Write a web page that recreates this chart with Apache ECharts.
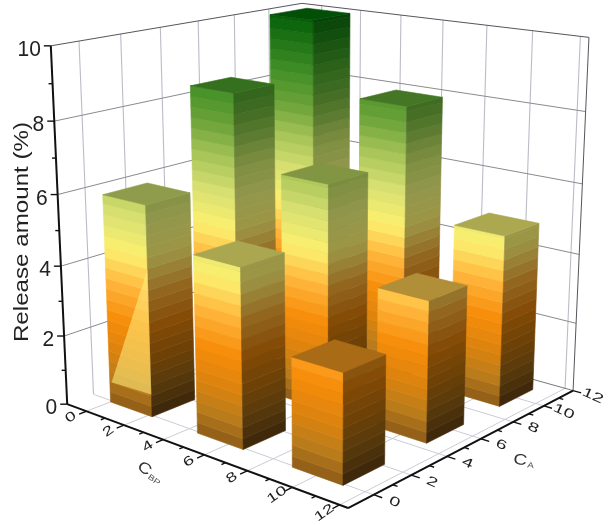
<!DOCTYPE html>
<html><head><meta charset="utf-8">
<style>html,body{margin:0;padding:0;background:#fff}#c{width:608px;height:525px}</style>
<script src="https://cdn.jsdelivr.net/npm/echarts@6/dist/echarts.min.js"></script>
</head><body><div id="c"></div>
<script>
// ---- data ----
const cbpCenters = [1.1, 5.6, 10.05];
const caCenters = [1, 5.55, 10];
// release[caIndex][cbpIndex]
const release = [
  [5.95, 4.93, 2.95],
  [8.4, 6.4, 3.9],
  [10.0, 7.95, 4.87]
];
const barHalfWidth = 1.1;
const cbpTicks = [0, 2, 4, 6, 8, 10, 12];
const caTicks = [0, 2, 4, 6, 8, 10, 12];
const zTicks = [0, 2, 4, 6, 8, 10];
const cbpRange = [-1.05, 12.35];
const caRange = [-1.3, 12];
const zRange = [0, 10];
const colorBreaks = [0, 0.7, 1.5, 2.5, 3.5, 4.5, 5.5, 6.5, 7.5, 8.5, 10];
const colorRamp = ['#8c5a18', '#b87a1c', '#d9820f', '#f78c0a', '#ffb43a', '#fcf070', '#d8e070', '#a8c458', '#6aa238', '#3f8c25', '#056008'];

// ---- projection calibrated on the corners of the box ----
const calib = [
  [0,0,0,67,405],[1,0,0,347,508],[1,1,0,573,390],[0,1,0,304,315],
  [0,0,1,52,45],[0,1,1,300,3.5],[1,1,1,590,38]
];
function solveProjection(pts) {
  const n = 11, N = Array.from({length:n},()=>new Array(n+1).fill(0));
  const add = (r, b) => { for (let i=0;i<n;i++){ for(let j=0;j<n;j++) N[i][j]+=r[i]*r[j]; N[i][n]+=r[i]*b; } };
  pts.forEach(([X,Y,Z,x,y]) => {
    add([X,Y,Z,1,0,0,0,0,-x*X,-x*Y,-x*Z], x);
    add([0,0,0,0,X,Y,Z,1,-y*X,-y*Y,-y*Z], y);
  });
  for (let i=0;i<n;i++){
    let m=i; for(let k=i+1;k<n;k++) if(Math.abs(N[k][i])>Math.abs(N[m][i])) m=k;
    [N[i],N[m]]=[N[m],N[i]];
    for(let k=0;k<n;k++){ if(k===i) continue; const f=N[k][i]/N[i][i]; for(let j=i;j<=n;j++) N[k][j]-=f*N[i][j]; }
  }
  return N.map((r,i)=>r[n]/r[i]);
}
const P = solveProjection(calib);
const lm = echarts.number.linearMap;
function proj(cbp, ca, z) {
  const X=lm(cbp,cbpRange,[0,1]), Y=lm(ca,caRange,[0,1]), Z=lm(z,zRange,[0,1]);
  const w=P[8]*X+P[9]*Y+P[10]*Z+1;
  return [(P[0]*X+P[1]*Y+P[2]*Z+P[3])/w,(P[4]*X+P[5]*Y+P[6]*Z+P[7])/w];
}
function colorAt(z){
  let i=0; while(i<colorBreaks.length-2 && z>colorBreaks[i+1]) i++;
  const t=(z-colorBreaks[i])/(colorBreaks[i+1]-colorBreaks[i]);
  return echarts.color.lerp(t,[colorRamp[i],colorRamp[i+1]]);
}
function shade(c,f){
  const a=echarts.color.parse(c);
  return 'rgb('+[0,1,2].map(i=>Math.round(a[i]*f)).join(',')+')';
}
const line=(a,b,stroke,w)=>({type:'line',shape:{x1:a[0],y1:a[1],x2:b[0],y2:b[1]},style:{stroke,lineWidth:w}});
const poly=(pts,fill)=>({type:'polygon',shape:{points:pts},style:{fill,stroke:fill,lineWidth:0.6}});
const text=(p,t,size,rot,sx,sy,extra)=>({type:'text',x:p[0],y:p[1],rotation:rot,scaleX:sx,scaleY:sy,
  style:Object.assign({text:t,fontFamily:'Liberation Sans',fontSize:size,fill:'#222',align:'center',verticalAlign:'middle'},extra||{})});

function renderBox(){
  const ch=[], [c0,c1]=cbpRange, [a0,a1]=caRange, zt=zRange[1];
  const hGrid='#8a8a90', vGrid='#bcbcc8', edge='#55555c';
  // floor
  caTicks.filter(t=>t<a1).forEach(t=>ch.push(line(proj(c0,t,0),proj(c1,t,0),'#ccccd6',1)));
  cbpTicks.forEach(t=>ch.push(line(proj(t,a0,0),proj(t,a1,0),'#ccccd6',1)));
  // left wall and right wall
  caTicks.filter(t=>t<a1).forEach(t=>ch.push(line(proj(c0,t,0),proj(c0,t,zt),vGrid,1.1)));
  cbpTicks.forEach(t=>ch.push(line(proj(t,a1,0),proj(t,a1,zt),vGrid,1.1)));
  zTicks.filter(z=>z>0&&z<zt).forEach(z=>{
    ch.push(line(proj(c0,a0,z),proj(c0,a1,z),hGrid,1));
    ch.push(line(proj(c0,a1,z),proj(c1,a1,z),hGrid,1));
  });
  ch.push(line(proj(c0,a0,zt),proj(c0,a1,zt),edge,1));
  ch.push(line(proj(c0,a1,zt),proj(c1,a1,zt),edge,1));
  ch.push(line(proj(c1,a1,zt),proj(c1,a1,0),edge,1));
  ch.push(line(proj(c0,a1,0),proj(c1,a1,0),edge,0.8));
  ch.push(line(proj(c1,a1,0),proj(c1,a0,0),'#a0a0a8',0.8));
  return {type:'group',children:ch};
}
function renderBar(params,api){
  const cbp=api.value(0), ca=api.value(1), h=api.value(2), b=barHalfWidth, ch=[];
  const x0=cbp-b,x1=cbp+b,y0=ca-b,y1=ca+b, step=0.3;
  for(let z=0;z<h-1e-6;z+=step){
    const zt=Math.min(h,z+step), zm=(z+zt)/2, c=colorAt(zm);
    ch.push(poly([proj(x0,y0,z),proj(x1,y0,z),proj(x1,y0,zt),proj(x0,y0,zt)],c));
    ch.push(poly([proj(x1,y0,z),proj(x1,y1,z),proj(x1,y1,zt),proj(x1,y0,zt)],shade(c,Math.min(0.42+0.045*zm,0.7))));
  }
  ch.push(poly([proj(x0,y0,h),proj(x1,y0,h),proj(x1,y1,h),proj(x0,y1,h)],shade(colorAt(h),0.62+0.02*h)));
  // pale glare seen on the front face of the nearest-left bar
  if(cbp===cbpCenters[0]&&ca===caCenters[0]){
    ch.push({type:'polygon',shape:{points:[proj(x0+0.1,y0,0.6),proj(x1,y0,0.65),proj(x1,y0,4.2)]},style:{fill:'rgba(255,240,130,0.55)'}});
  }
  return {type:'group',children:ch};
}
function renderAxes(){
  const ch=[], [c0,c1]=cbpRange, [a0,a1]=caRange, black='#111';
  ch.push(line(proj(c0,a0,0),proj(c0,a0,10),black,2));
  ch.push(line(proj(c0,a0,0),proj(c1,a0,0),black,2));
  ch.push(line(proj(c1,a0,0),proj(c1,a1,0),black,2));
  for(let z=0;z<=10;z++){
    const p=proj(c0,a0,z), len=z%2===0?7:4;
    ch.push(line(p,[p[0]-len,p[1]],black,1.4));
  }
  zTicks.forEach(z=>{const p=proj(c0,a0,z);
    ch.push(text([p[0]-10,p[1]+4],String(z),21,0,1,1.08,{align:'right'}));});
  for(let t=0;t<=12;t++){
    const m=t%2===0;
    let p=proj(t,a0,0), q=proj(t,a0-(m?0.35:0.2),0);
    ch.push(line(p,q,black,1.4));
    p=proj(c1,t,0); q=proj(c1+(m?0.35:0.2),t,0);
    ch.push(line(p,q,black,1.4));
  }
  cbpTicks.forEach(t=>ch.push(text(proj(t,a0-0.75,0),String(t),18,0.6,1.05,0.72)));
  caTicks.forEach(t=>ch.push(text(proj(c1+0.85,t,0),String(t),18,-0.42,1.1,0.72)));
  ch.push({type:'text',x:22,y:232,rotation:Math.PI/2,scaleX:1.15,scaleY:1,
    style:{text:'Release amount (%)',fontFamily:'Liberation Sans',fontSize:21,fill:'#222',align:'center',verticalAlign:'middle'}});
  const rich={c:{fontFamily:'Liberation Sans',fontSize:19,fill:'#333',verticalAlign:'bottom'},s:{fontFamily:'Liberation Sans',fontSize:10,fill:'#555',verticalAlign:'bottom',padding:[6,0,0,1]}};
  ch.push({type:'text',x:150,y:473,rotation:-0.62,scaleY:0.8,style:{text:'{c|C}{s|BP}',rich,align:'center',verticalAlign:'middle'}});
  ch.push({type:'text',x:524,y:461,rotation:-0.15,scaleY:0.8,style:{text:'{c|C}{s|A}',rich,align:'center',verticalAlign:'middle'}});
  return {type:'group',children:ch};
}
const barData=[];
for(let j=caCenters.length-1;j>=0;j--) for(let i=0;i<cbpCenters.length;i++) barData.push([cbpCenters[i],caCenters[j],release[j][i]]);
const chart=echarts.init(document.getElementById('c'),null,{renderer:'canvas'});
chart.setOption({
  animation:false,backgroundColor:'#fff',
  series:[
    {type:'custom',coordinateSystem:'none',data:[[0]],renderItem:renderBox,silent:true,z:1},
    {type:'custom',coordinateSystem:'none',data:barData,renderItem:renderBar,silent:true,z:2,encode:{}},
    {type:'custom',coordinateSystem:'none',data:[[0]],renderItem:renderAxes,silent:true,z:3}
  ]
});
</script></body></html>
